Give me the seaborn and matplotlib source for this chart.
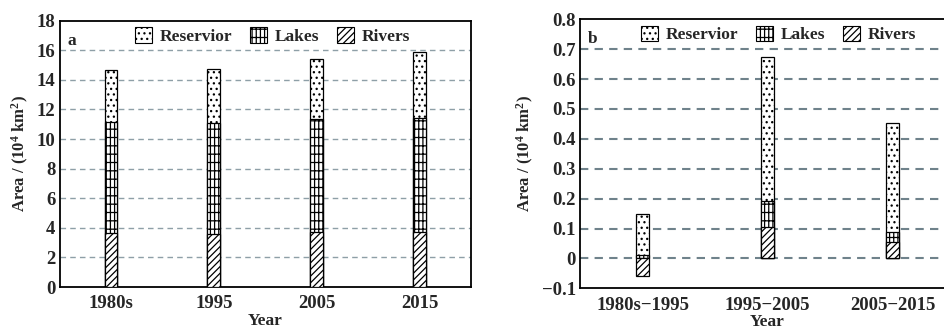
import numpy as np
import pandas as pd
import seaborn as sns
import matplotlib
matplotlib.use("Agg")
import matplotlib.pyplot as plt
from matplotlib.patches import Patch

# Water-body area by period (10^4 km^2)
years = ["1980s", "1995", "2005", "2015"]
rivers_a = [3.63, 3.56, 3.74, 3.74]
lakes_a = [7.54, 7.54, 7.59, 7.66]
reservoir_a = [3.49, 3.63, 4.07, 4.46]

# Change in area between periods (10^4 km^2)
periods = ["1980s\u22121995", "1995\u22122005", "2005\u22122015"]
rivers_b = [-0.06, 0.106, 0.054]
lakes_b = [0.013, 0.086, 0.033]
reservoir_b = [0.135, 0.483, 0.365]

series_names = ["Reservior", "Lakes", "Rivers"]
hatches = {"Reservior": "...", "Lakes": "++||", "Rivers": "/////"}

sns.set_style("white")
plt.rcParams["font.family"] = ["Liberation Serif", "DejaVu Serif"]
plt.rcParams["font.weight"] = "bold"
plt.rcParams["mathtext.fontset"] = "custom"
plt.rcParams["mathtext.rm"] = "Liberation Serif:bold"
plt.rcParams["mathtext.bf"] = "Liberation Serif:bold"
plt.rcParams["mathtext.it"] = "Liberation Serif:bold"
plt.rcParams["hatch.linewidth"] = 0.9
plt.rcParams["hatch.color"] = "black"

fig = plt.figure(figsize=(9.44, 3.31), dpi=100)
ax_a = fig.add_axes([59.5 / 944, 1 - 287 / 331, (471 - 59.5) / 944, (287 - 20.7) / 331])
ax_b = fig.add_axes([580 / 944, 1 - 288.3 / 331, (955 - 580) / 944, (288.3 - 19.3) / 331])


def stacked(ax, cats, rivers, lakes, reservoir, width):
    rivers = np.array(rivers)
    lakes_top = np.clip(rivers, 0, None) + np.array(lakes)
    total = lakes_top + np.array(reservoir)
    layers = [("Reservior", total), ("Lakes", lakes_top), ("Rivers", rivers)]
    for name, heights in layers:
        df = pd.DataFrame({"cat": cats, "value": heights})
        sns.barplot(data=df, x="cat", y="value", ax=ax, width=width,
                    color="white", edgecolor="black", linewidth=0.9,
                    hatch=hatches[name], errorbar=None, zorder=3)
    n = len(cats)
    for i, p in enumerate(ax.patches):
        p.set_hatch(hatches[layers[i // n][0]])
        p.set_facecolor("white")
        p.set_edgecolor("black")


def style(ax, cats, ylim, yticks, ylabels, grid_ticks, panel, grid_color, grid_lw, leg_x):
    ax.set_xlim(-0.5, len(cats) - 0.5)
    ax.set_ylim(*ylim)
    ax.set_yticks(yticks)
    ax.set_yticklabels(ylabels, fontsize=13.5, fontweight="bold")
    ax.set_xticks(range(len(cats)))
    ax.set_xticklabels(cats, fontsize=13.5, fontweight="bold")
    ax.set_xticks(np.arange(0.5, len(cats) - 0.5, 1), minor=True)
    ax.tick_params(axis="x", which="major", length=0, pad=6)
    ax.tick_params(axis="x", which="minor", direction="in", length=4, width=1.2, color="black")
    ax.tick_params(axis="y", length=0, pad=3)
    for g in grid_ticks:
        ax.axhline(g, color=grid_color, lw=grid_lw, ls=(0, (4, 3)), zorder=1)
    for s in ax.spines.values():
        s.set_visible(True)
        s.set_color("black")
        s.set_linewidth(1.3)
    ax.set_xlabel("Year", fontsize=12.5, fontweight="bold", labelpad=0.5)
    ax.set_ylabel("Area / (10$^{4}$ km$^{2}$)", fontsize=12, fontweight="bold", labelpad=4)
    ax.text(0.02, 0.955, panel, transform=ax.transAxes, fontsize=12.5,
            fontweight="bold", va="top", ha="left")
    handles = [Patch(facecolor="white", edgecolor="black", linewidth=0.8,
                     hatch=hatches[n], label=n) for n in series_names]
    ax.legend(handles=handles, ncol=3, frameon=False, loc="upper left",
              bbox_to_anchor=(leg_x, 1.035), handlelength=1.0, handleheight=1.0,
              handletextpad=0.45, columnspacing=1.0,
              prop={"family": "Liberation Serif", "weight": "bold", "size": 12.5})


stacked(ax_a, years, rivers_a, lakes_a, reservoir_a, 0.125)
style(ax_a, years, (0, 18), np.arange(0, 19, 2), [str(v) for v in range(0, 19, 2)],
      np.arange(2, 17, 2), "a", "#8e9fa7", 1.0, 0.145)

stacked(ax_b, periods, rivers_b, lakes_b, reservoir_b, 0.105)
bt = np.round(np.arange(-0.1, 0.81, 0.1), 1)
blabels = ["\u22120.1" if v < 0 else ("0" if v == 0 else f"{v:.1f}") for v in bt]
style(ax_b, periods, (-0.1, 0.8), bt, blabels, np.round(np.arange(0, 0.71, 0.1), 1), "b",
      "#6f828b", 1.5, 0.12)

fig.savefig("out.png", dpi=100)
